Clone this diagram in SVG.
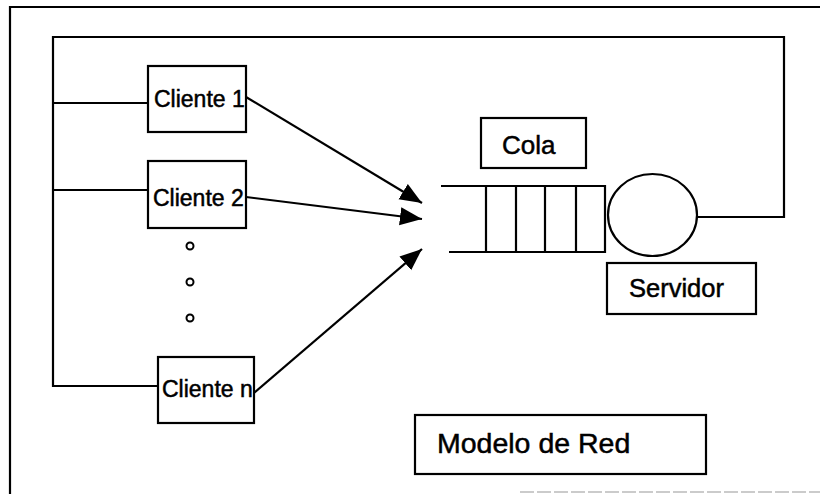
<svg xmlns="http://www.w3.org/2000/svg" width="820" height="494" viewBox="0 0 820 494">
  <defs>
    <marker id="arrow" markerWidth="23" markerHeight="20" refX="22" refY="10" markerUnits="userSpaceOnUse" orient="auto">
      <path d="M0,1 L22,10 L0,19 z" fill="#000"/>
    </marker>
    <style>
      .ln { fill: none; stroke: #000; stroke-width: 2.2; }
      .box { fill: #fff; stroke: #000; stroke-width: 2.2; }
      .t { font-family: "Liberation Sans", Arial, sans-serif; fill: #000; stroke: #000; stroke-width: 0.5; }
      .dot { fill: #fff; stroke: #000; stroke-width: 2; }
    </style>
  </defs>
  <rect width="820" height="494" fill="#fff"/>

  <!-- outer frame -->
  <g id="frame">
    <path class="ln" d="M10,494 V7 H820"/>
    <path d="M520,492 H820" stroke="#bbb" stroke-width="1.5" stroke-dasharray="14 3"/>
  </g>

  <!-- connectors -->
  <g id="connectors">
    <!-- feedback loop from server back to all clients -->
    <path class="ln" d="M697,217 H784 V37 H53 V386 H158"/>
    <path class="ln" d="M53,103 H148"/>
    <path class="ln" d="M53,190 H148"/>
    <!-- client arrivals into the queue -->
    <line class="ln" x1="246" y1="97" x2="422" y2="203" marker-end="url(#arrow)"/>
    <line class="ln" x1="246" y1="197" x2="422" y2="219" marker-end="url(#arrow)"/>
    <line class="ln" x1="254" y1="393" x2="422" y2="249" marker-end="url(#arrow)"/>
  </g>

  <g id="cliente1">
    <rect class="box" x="148" y="66" width="98" height="66"/>
    <text class="t" x="154" y="107" font-size="23">Cliente 1</text>
  </g>
  <g id="cliente2">
    <rect class="box" x="148" y="161" width="98" height="67"/>
    <text class="t" x="153" y="206" font-size="23">Cliente 2</text>
  </g>
  <g id="ellipsis">
    <circle class="dot" cx="190" cy="246" r="3.5"/>
    <circle class="dot" cx="190" cy="282" r="3.5"/>
    <circle class="dot" cx="190" cy="318" r="3.5"/>
  </g>
  <g id="clienten">
    <rect class="box" x="158" y="357" width="96" height="66"/>
    <text class="t" x="162" y="397" font-size="23">Cliente n</text>
  </g>

  <g id="cola">
    <rect class="box" x="481" y="118" width="105" height="50"/>
    <text class="t" x="502" y="154" font-size="26">Cola</text>
  </g>

  <g id="queue">
    <path class="ln" d="M441,186 H605 V252 H449"/>
    <path class="ln" d="M486,186 V252 M516,186 V252 M545,186 V252 M576,186 V252"/>
  </g>

  <g id="server">
    <ellipse class="ln" cx="652.5" cy="215" rx="44.5" ry="41"/>
  </g>

  <g id="servidor">
    <rect class="box" x="607" y="263" width="149" height="51"/>
    <text class="t" x="629" y="297" font-size="25.5">Servidor</text>
  </g>

  <g id="modelo">
    <rect class="box" x="415" y="415" width="291" height="59"/>
    <text class="t" x="437" y="453" font-size="28.5">Modelo de Red</text>
  </g>
</svg>
